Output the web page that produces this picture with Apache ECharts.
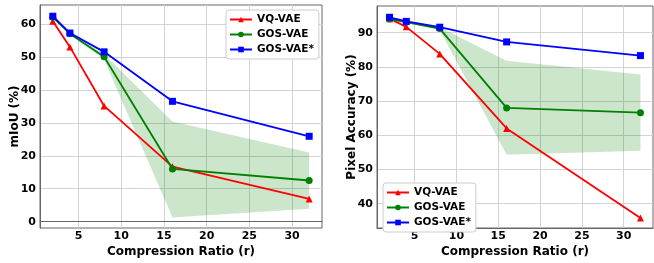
<!DOCTYPE html>
<html>
<head>
<meta charset="utf-8">
<script src="https://cdn.jsdelivr.net/npm/echarts@6/dist/echarts.min.js"></script>
<style>
  html, body { margin: 0; padding: 0; background: #fff; }
  #chart { width: 654px; height: 263px; }
</style>
</head>
<body>
<div id="chart"></div>
<script>
// compression ratios
const ratios = [2, 4, 8, 16, 32]
const seriesNames = ['VQ-VAE', 'GOS-VAE', 'GOS-VAE*']

// mIoU (%)
const miouVQ = [60.8, 53.0, 35.1, 16.7, 6.9]
const miouGOS = [62.0, 57.0, 50.0, 16.0, 12.5]
const miouGOSStar = [62.3, 57.2, 51.5, 36.5, 25.9]
const miouBandLow = [61.8, 56.6, 49.2, 1.3, 3.9]
const miouBandHigh = [62.2, 57.4, 50.8, 30.4, 21.0]

// pixel accuracy (%)
const paVQ = [94.1, 91.7, 83.8, 62.0, 35.8]
const paGOS = [94.0, 93.1, 91.2, 68.0, 66.6]
const paGOSStar = [94.5, 93.3, 91.6, 87.3, 83.3]
const paBandLow = [93.8, 92.8, 90.8, 54.3, 55.5]
const paBandHigh = [94.2, 93.4, 91.6, 81.8, 77.8]

const xTicks = [5, 10, 15, 20, 25, 30]
const miouTicks = [0, 10, 20, 30, 40, 50, 60]
const paTicks = [40, 50, 60, 70, 80, 90]

const colors = ['#ff0000', '#008000', '#0000ff']
const symbols = ['triangle', 'circle', 'rect']
const symbolSizes = [7, 7, 7]
const font = 'DejaVu Sans'

function pairs(ys) {
  return ratios.map((x, i) => [x, ys[i]])
}

function xAxisFor(idx) {
  return {
    gridIndex: idx,
    type: 'value',
    min: 0.5,
    max: 33.5,
    name: 'Compression Ratio (r)',
    nameLocation: 'middle',
    nameGap: 18,
    nameMoveOverlap: false,
    nameTextStyle: { fontFamily: font, fontWeight: 'bold', fontSize: 12, color: '#000' },
    axisLine: { show: true, lineStyle: { color: '#666', width: 1 } },
    axisTick: { show: false, customValues: xTicks },
    axisLabel: { customValues: xTicks, fontFamily: font, fontWeight: 'bold', fontSize: 11, color: '#000', margin: 3 },
    splitLine: { show: true, customValues: xTicks, lineStyle: { color: '#d3d3d3', width: 1 } }
  }
}

function yAxisFor(idx, min, max, ticks, name) {
  return {
    gridIndex: idx,
    type: 'value',
    min: min,
    max: max,
    name: name,
    nameLocation: 'middle',
    nameGap: 19,
    nameMoveOverlap: false,
    nameTextStyle: { fontFamily: font, fontWeight: 'bold', fontSize: 12, color: '#000' },
    axisLine: { show: true, lineStyle: { color: '#666', width: 1 } },
    axisTick: { show: false, customValues: ticks },
    axisLabel: { customValues: ticks, fontFamily: font, fontWeight: 'bold', fontSize: 11, color: '#000', margin: 4 },
    splitLine: { show: true, customValues: ticks, lineStyle: { color: '#d3d3d3', width: 1 } }
  }
}

function lineSeries(idx, i, ys) {
  return {
    name: seriesNames[i],
    type: 'line',
    xAxisIndex: idx,
    yAxisIndex: idx,
    data: pairs(ys),
    symbol: symbols[i],
    symbolSize: symbolSizes[i],
    showAllSymbol: true,
    color: colors[i],
    lineStyle: { color: colors[i], width: 1.8 },
    itemStyle: { color: colors[i] },
    z: 3 + i,
    animation: false
  }
}

// std band of GOS-VAE, drawn as a polygon through the axis scales
function bandSeries(idx, low, high) {
  return {
    type: 'custom',
    xAxisIndex: idx,
    yAxisIndex: idx,
    data: [[ratios[0], low[0]]],
    silent: true,
    z: 1,
    clip: true,
    renderItem: function (params, api) {
      const pts = []
      for (let i = 0; i < ratios.length; i++) pts.push(api.coord([ratios[i], high[i]]))
      for (let i = ratios.length - 1; i >= 0; i--) pts.push(api.coord([ratios[i], low[i]]))
      return {
        type: 'polygon',
        shape: { points: pts },
        style: { fill: 'rgba(0,128,0,0.2)', stroke: 'none' }
      }
    }
  }
}

function legendFor(pos) {
  return Object.assign({
    data: seriesNames,
    orient: 'vertical',
    itemWidth: 22,
    itemHeight: 7,
    itemGap: 4,
    padding: [4, 5, 4, 3],
    backgroundColor: '#fff',
    borderColor: '#ccc',
    borderWidth: 1,
    borderRadius: 3,
    textStyle: { fontFamily: font, fontWeight: 'bold', fontSize: 10.5, color: '#000' }
  }, pos)
}

const chart = echarts.init(document.getElementById('chart'), null, { renderer: 'canvas' })
chart.setOption({
  backgroundColor: '#fff',
  animation: false,
  grid: [
    { left: 40, right: 332, top: 5, bottom: 28, show: true, borderColor: '#666', borderWidth: 1, backgroundColor: 'transparent' },
    { left: 377, right: 1, top: 6, bottom: 29, show: true, borderColor: '#666', borderWidth: 1, backgroundColor: 'transparent' }
  ],
  legend: [
    legendFor({ left: 226, top: 10 }),
    legendFor({ left: 383, top: 183 })
  ],
  xAxis: [xAxisFor(0), xAxisFor(1)],
  yAxis: [
    yAxisFor(0, -1.9, 65.7, miouTicks, 'mIoU (%)'),
    yAxisFor(1, 32.9, 97.8, paTicks, 'Pixel Accuracy (%)')
  ],
  series: [
    bandSeries(0, miouBandLow, miouBandHigh),
    lineSeries(0, 0, miouVQ),
    lineSeries(0, 1, miouGOS),
    lineSeries(0, 2, miouGOSStar),
    bandSeries(1, paBandLow, paBandHigh),
    lineSeries(1, 0, paVQ),
    lineSeries(1, 1, paGOS),
    lineSeries(1, 2, paGOSStar)
  ]
})
</script>
</body>
</html>
